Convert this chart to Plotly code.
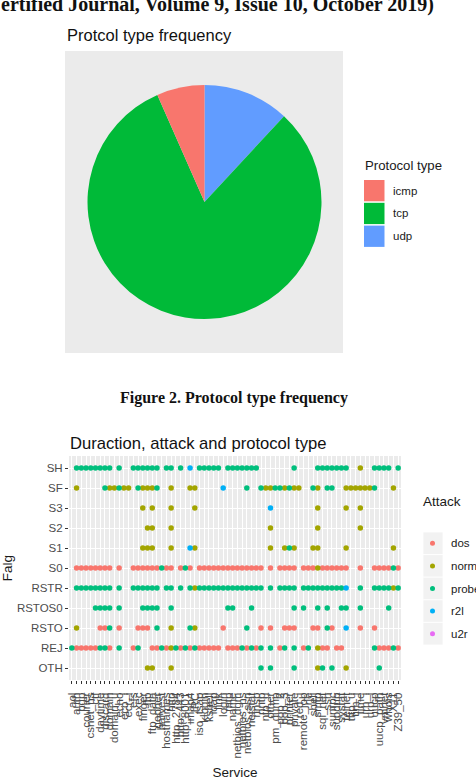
import plotly.graph_objects as go

W, H = 476, 780


def X(px):
    return px / W


def Y(py):
    return 1 - py / H


# ---------------- data: pie ----------------
PROTOCOLS = ["icmp", "tcp", "udp"]
PROTOCOL_SHARE = [6.6, 81.5, 11.9]
PROTOCOL_COLORS = ["#F8766D", "#00BA38", "#619CFF"]

# ---------------- data: dot plot ----------------
SERVICES = ["aol", "auth", "bgp", "courier", "csnet_ns", "ctf", "daytime", "discard",
            "domain", "domain_u", "echo", "eco_i", "ecr_i", "efs", "exec", "finger",
            "ftp", "ftp_data", "gopher", "harvest", "hostnames", "http", "http_2784",
            "http_443", "http_8001", "imap4", "IRC", "iso_tsap", "klogin", "kshell",
            "ldap", "link", "login", "mtp", "name", "netbios_dgm", "netbios_ns",
            "netbios_ssn", "netstat", "nnsp", "nntp", "ntp_u", "other", "pm_dump",
            "pop_2", "pop_3", "printer", "private", "red_i", "remote_job", "rje",
            "shell", "smtp", "sql_net", "ssh", "sunrpc", "supdup", "systat", "telnet",
            "tftp_u", "tim_i", "time", "urh_i", "urp_i", "uucp", "uucp_path", "vmnet",
            "whois", "X11", "Z39_50"]
FLAGS = ["OTH", "REJ", "RSTO", "RSTOS0", "RSTR", "S0", "S1", "S2", "S3", "SF", "SH"]
ATTACKS = ["dos", "normal", "probe", "r2l", "u2r"]
ATTACK_COLORS = ["#F8766D", "#A3A500", "#00BF7D", "#00B0F6", "#E76BF3"]

# service indices observed for each flag / attack
SH_POINTS = {
    "probe": [1, 2, 3, 4, 5, 6, 7, 8, 10, 13, 14, 15, 16, 17, 18, 20, 21, 23, 27, 28, 29, 30,
              31, 33, 34, 35, 36, 37, 38, 39, 47, 52, 53, 54, 55, 56, 57, 58, 64, 65, 66,
              67, 69],
    "r2l": [25],
    "normal": [61],
}
SF_POINTS = {
    "normal": [1, 8, 9, 11, 12, 15, 16, 17, 21, 25, 26, 41, 42, 45, 47, 48, 52, 58, 59, 60,
               61, 62, 63, 68],
    "probe": [7, 10, 14, 18, 37, 40, 43, 44, 46, 51, 54, 55, 64],
    "r2l": [32],
}
S3_POINTS = {"normal": [15, 17, 21, 26, 52, 58, 61], "r2l": [42]}
S2_POINTS = {"normal": [16, 17, 21, 42, 52, 61]}
S1_POINTS = {
    "normal": [15, 16, 17, 21, 26, 42, 45, 47, 51, 52, 58, 68],
    "r2l": [25],
    "probe": [46],
}
S0_POINTS = {
    "dos": [1, 2, 3, 4, 5, 6, 7, 8, 10, 13, 14, 15, 16, 17, 18, 20, 21, 23, 25, 27, 28, 29,
            30, 31, 32, 33, 34, 35, 36, 37, 38, 39, 40, 42, 44, 45, 46, 47, 49, 50, 51, 53,
            54, 55, 56, 57, 58, 61, 64, 65, 66, 67, 69],
    "probe": [19, 24, 68],
    "normal": [52],
}
RSTR_POINTS = {
    "probe": [1, 2, 3, 4, 5, 6, 7, 8, 10, 13, 14, 15, 16, 17, 18, 20, 21, 23, 25, 27, 28, 29,
              30, 31, 32, 33, 34, 35, 36, 37, 38, 39, 40, 42, 44, 45, 46, 47, 49, 50, 51, 52,
              53, 54, 55, 56, 57, 61, 64, 65, 66, 67, 69],
    "normal": [26, 68],
    "r2l": [58],
}
RSTOS0_POINTS = {
    "probe": [5, 6, 7, 8, 10, 15, 16, 17, 18, 21, 33, 34, 38, 47, 49, 52, 54, 57, 58, 61, 67],
}
RSTO_POINTS = {
    "normal": [1, 21, 26],
    "dos": [6, 7, 10, 14, 15, 16, 32, 40, 42, 45, 46, 47, 51, 52, 55, 61, 64],
    "probe": [8, 18, 25, 37, 54],
    "r2l": [58],
}
REJ_POINTS = {
    "probe": [0, 6, 7, 10, 14, 19, 22, 24, 26, 36, 38, 40, 42, 45, 47, 50, 64, 68],
    "dos": [1, 2, 3, 4, 5, 8, 13, 17, 18, 20, 23, 25, 27, 28, 29, 30, 31, 33, 34, 35, 37, 39,
            44, 49, 53, 54, 56, 57, 65, 66, 67, 69],
    "normal": [21, 52],
}
OTH_POINTS = {
    "normal": [16, 17, 21, 52, 58],
    "probe": [40, 42, 47, 53, 55, 65],
}

ROWS = {"SH": SH_POINTS, "SF": SF_POINTS, "S3": S3_POINTS, "S2": S2_POINTS,
        "S1": S1_POINTS, "S0": S0_POINTS, "RSTR": RSTR_POINTS, "RSTOS0": RSTOS0_POINTS,
        "RSTO": RSTO_POINTS, "REJ": REJ_POINTS, "OTH": OTH_POINTS}

FONT = "Liberation Sans, Arial, sans-serif"
SERIF = "Liberation Serif, Times New Roman, serif"

fig = go.Figure()

# ---------------- pie ----------------
# ggplot's coord_polar stacks the last level first, clockwise from 12 o'clock
cx, cy, r = 204.5, 202, 117
fig.add_trace(go.Pie(
    labels=PROTOCOLS[::-1], values=PROTOCOL_SHARE[::-1],
    marker=dict(colors=PROTOCOL_COLORS[::-1], line=dict(width=0)),
    sort=False, direction="clockwise", rotation=0,
    textinfo="none", hoverinfo="label+percent", showlegend=False,
    domain=dict(x=[X(cx - r), X(cx + r)], y=[Y(cy + r), Y(cy - r)]),
))

# ---------------- dot plot ----------------
for attack, color in zip(ATTACKS, ATTACK_COLORS):
    xs, ys = [], []
    for flag in FLAGS:
        for idx in ROWS[flag].get(attack, []):
            xs.append(SERVICES[idx])
            ys.append(flag)
    fig.add_trace(go.Scatter(
        x=xs, y=ys, mode="markers", name=attack,
        marker=dict(color=color, size=5.5, line=dict(width=0)),
        showlegend=False, xaxis="x", yaxis="y",
    ))

fig.update_layout(
    width=W, height=H,
    margin=dict(l=0, r=0, t=0, b=0),
    paper_bgcolor="white", plot_bgcolor="#EBEBEB",
    font=dict(family=FONT, color="#1A1A1A"),
    xaxis=dict(
        domain=[X(69), X(401)], anchor="y",
        type="category", categoryorder="array", categoryarray=SERVICES,
        range=[-0.6, len(SERVICES) - 0.4],
        tickmode="array", tickvals=SERVICES, ticktext=SERVICES,
        tickangle=-90, tickfont=dict(size=11.5, color="#4D4D4D", family=FONT),
        ticks="outside", ticklen=3, tickcolor="#333333", tickwidth=1,
        ticklabelstandoff=4,
        showgrid=True, gridcolor="white", gridwidth=1,
        zeroline=False, showline=False, automargin=False,
        title=dict(text="Service", font=dict(size=13.5, color="#1A1A1A", family=FONT),
                   standoff=12),
    ),
    yaxis=dict(
        domain=[Y(680), Y(456)], anchor="x",
        type="category", categoryorder="array", categoryarray=FLAGS,
        range=[-0.6, len(FLAGS) - 0.4],
        tickfont=dict(size=11.5, color="#4D4D4D", family=FONT),
        ticks="outside", ticklen=3, tickcolor="#333333", tickwidth=1,
        showgrid=True, gridcolor="white", gridwidth=1.3,
        zeroline=False, showline=False, automargin=False,
        title=dict(text="Falg", font=dict(size=13.5, color="#1A1A1A", family=FONT),
                   standoff=2),
    ),
)

shapes = []
annotations = []

# pie panel background
shapes.append(dict(type="rect", xref="paper", yref="paper", layer="below",
                   x0=X(65), x1=X(343), y0=Y(353), y1=Y(51),
                   fillcolor="#EBEBEB", line=dict(width=0)))

# pie legend
annotations.append(dict(text="Protocol type", x=X(363), y=Y(165), xref="paper", yref="paper",
                        xanchor="left", yanchor="middle", showarrow=False,
                        font=dict(size=13.2, family=FONT, color="#1A1A1A")))
for i, (lab, col) in enumerate(zip(PROTOCOLS, PROTOCOL_COLORS)):
    top = 180 + i * 22.8
    shapes.append(dict(type="rect", xref="paper", yref="paper",
                       x0=X(364), x1=X(384.5), y0=Y(top + 21.3), y1=Y(top),
                       fillcolor=col, line=dict(width=0)))
    annotations.append(dict(text=lab, x=X(391), y=Y(top + 10.6), xref="paper", yref="paper",
                            xanchor="left", yanchor="middle", showarrow=False,
                            font=dict(size=11.5, family=FONT, color="#1A1A1A")))

# attack legend
annotations.append(dict(text="Attack", x=X(421), y=Y(501), xref="paper", yref="paper",
                        xanchor="left", yanchor="middle", showarrow=False,
                        font=dict(size=13.5, family=FONT, color="#1A1A1A")))
for i, (lab, col) in enumerate(zip(ATTACKS, ATTACK_COLORS)):
    top = 532 + i * 22.6
    shapes.append(dict(type="rect", xref="paper", yref="paper",
                       x0=X(423), x1=X(443), y0=Y(top + 22.6), y1=Y(top),
                       fillcolor="#F2F2F2", line=dict(color="white", width=0.8)))
    shapes.append(dict(type="circle", xref="paper", yref="paper",
                       x0=X(430), x1=X(435), y0=Y(top + 13.8), y1=Y(top + 8.8),
                       fillcolor=col, line=dict(width=0)))
    annotations.append(dict(text=lab, x=X(449), y=Y(top + 11.3), xref="paper", yref="paper",
                            xanchor="left", yanchor="middle", showarrow=False,
                            font=dict(size=11.5, family=FONT, color="#1A1A1A")))

# titles / page text
annotations.append(dict(text="ertified Journal, Volume 9, Issue 10, October 2019)",
                        x=X(-1), y=Y(4.5), xref="paper", yref="paper",
                        xanchor="left", yanchor="middle", showarrow=False,
                        font=dict(size=20, family=SERIF, color="#111111", weight="bold")))
annotations.append(dict(text="Protcol type frequency", x=X(65), y=Y(35), xref="paper",
                        yref="paper", xanchor="left", yanchor="middle", showarrow=False,
                        font=dict(size=16.5, family=FONT, color="#111111")))
annotations.append(dict(text="Figure 2. Protocol type frequency", x=X(234), y=Y(398),
                        xref="paper", yref="paper", xanchor="center", yanchor="middle",
                        showarrow=False,
                        font=dict(size=16, family=SERIF, color="#111111", weight="bold")))
annotations.append(dict(text="Duraction, attack and protocol type", x=X(68), y=Y(443),
                        xref="paper", yref="paper", xanchor="left", yanchor="middle",
                        showarrow=False,
                        font=dict(size=16.6, family=FONT, color="#111111")))

fig.update_layout(shapes=shapes, annotations=annotations)

fig.write_html("out.html")
